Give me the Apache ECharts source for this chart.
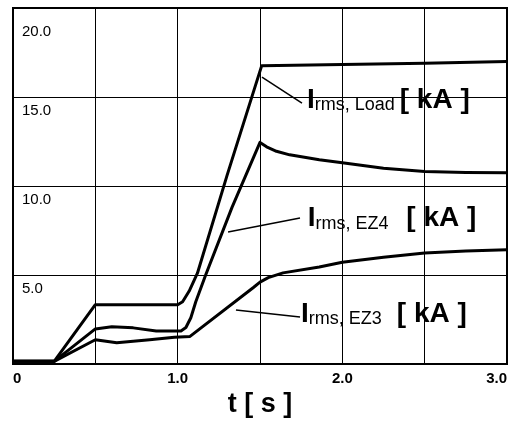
<!DOCTYPE html>
<html>
<head>
<meta charset="utf-8">
<script src="https://cdn.jsdelivr.net/npm/echarts@6/dist/echarts.min.js"></script>
<style>
    html, body { margin: 0; padding: 0; background: #fff; }
    #chart { width: 513px; height: 434px; }
</style>
</head>
<body>
<div id="chart"></div>
<script>
// t [s] -> I_rms [kA]
const loadCurve = [
    [0, 0.15], [0.25, 0.15], [0.5, 3.33], [1.0, 3.33], [1.03, 3.5], [1.07, 4.1],
    [1.12, 5.1], [1.3, 10.6], [1.51, 16.75],
    [2.0, 16.82], [2.5, 16.9], [3.0, 17.0]
];
const ez4Curve = [
    [0, 0.15], [0.25, 0.15], [0.5, 1.97], [0.6, 2.09], [0.73, 2.03], [0.87, 1.85],
    [1.02, 1.86], [1.05, 2.05], [1.08, 2.6], [1.11, 3.5], [1.17, 5.0], [1.33, 8.8],
    [1.5, 12.45], [1.54, 12.2], [1.6, 11.95], [1.68, 11.75],
    [1.86, 11.48], [2.0, 11.3], [2.25, 11.0], [2.5, 10.82], [2.75, 10.76], [3.0, 10.75]
];
const ez3Curve = [
    [0, 0.15], [0.25, 0.15], [0.5, 1.36], [0.63, 1.19], [0.83, 1.36], [0.98, 1.5],
    [1.075, 1.55], [1.46, 4.3], [1.5, 4.6], [1.55, 4.85], [1.64, 5.12], [1.86, 5.45],
    [2.0, 5.72], [2.25, 6.0], [2.5, 6.24], [2.75, 6.35], [3.0, 6.42]
];

const noteTexts = [
    '{i|I}{s|rms, Load }{k|[ kA ]}',
    '{i|I}{s|rms, EZ4  }{k| [ kA ]}',
    '{i|I}{s|rms, EZ3   }{k|[ kA ]}'
];
// where each label starts and where its pointer runs, in data units
const noteAnchors = [[1.785, 15.73], [1.79, 9.07], [1.749, 3.68]];
const leaders = [
    [[1.512, 16.12], [1.755, 14.66]],
    [[1.306, 7.42], [1.743, 8.2]],
    [[1.354, 3.03], [1.743, 2.64]]
];

const font = '"Liberation Sans", Arial, Helvetica, sans-serif';

const makeSeries = (data, leader) => ({
    type: 'line',
    data: data,
    showSymbol: false,
    lineStyle: { color: '#000', width: 3, join: 'round' },
    itemStyle: { color: '#000' },
    markLine: {
        silent: true,
        symbol: ['none', 'none'],
        label: { show: false },
        lineStyle: { color: '#000', width: 1.5, type: 'solid' },
        data: [[{ coord: leader[0] }, { coord: leader[1] }]]
    }
});

const option = {
    animation: false,
    backgroundColor: '#fff',
    grid: {
        left: 13, right: 6, top: 8, bottom: 70,
        show: true, borderColor: '#000', borderWidth: 2
    },
    xAxis: {
        type: 'value',
        min: 0, max: 3, interval: 0.5,
        axisLine: { show: true, lineStyle: { color: '#000', width: 2 } },
        axisTick: { show: false },
        splitLine: { show: true, lineStyle: { color: '#000', width: 1 } },
        axisLabel: {
            color: '#000', fontFamily: font, fontSize: 15, fontWeight: 'bold', margin: 7,
            alignMinLabel: 'left', alignMaxLabel: 'right',
            formatter: (v) => v === 0 ? '0' : (v % 1 === 0 ? v.toFixed(1) : '')
        },
        name: 't [ s ]',
        nameLocation: 'middle',
        nameGap: 22,
        nameTextStyle: { color: '#000', fontFamily: font, fontSize: 27, fontWeight: 'bold' }
    },
    yAxis: {
        type: 'value',
        min: 0, max: 20, interval: 5,
        axisLine: { show: true, lineStyle: { color: '#000', width: 2 } },
        axisTick: { show: false },
        splitLine: { show: true, lineStyle: { color: '#000', width: 1 } },
        axisLabel: {
            inside: true, margin: 9, verticalAlign: 'top', padding: [6, 0, 0, 0],
            color: '#000', fontFamily: font, fontSize: 15,
            formatter: (v) => v === 0 ? '' : (v === 20 ? '{top|20.0}' : v.toFixed(1)),
            rich: { top: { fontFamily: font, fontSize: 15, color: '#000', padding: [10, 0, 0, 0] } }
        }
    },
    series: [
        makeSeries(loadCurve, leaders[0]),
        makeSeries(ez4Curve, leaders[1]),
        makeSeries(ez3Curve, leaders[2])
    ]
};

const chart = echarts.init(document.getElementById('chart'));
chart.setOption(option);

const rich = {
    i: { fontFamily: font, fontSize: 28, fontWeight: 'bold', lineHeight: 30, verticalAlign: 'bottom' },
    s: { fontFamily: font, fontSize: 18, lineHeight: 14, verticalAlign: 'bottom' },
    k: { fontFamily: font, fontSize: 28, fontWeight: 'bold', lineHeight: 30, verticalAlign: 'bottom' }
};

chart.setOption({
    graphic: noteTexts.map((text, i) => {
        const [x, y] = chart.convertToPixel({ gridIndex: 0 }, noteAnchors[i]);
        return {
            type: 'text', x: x, y: y, z: 10,
            style: { text: text, rich: rich, fill: '#000', align: 'left', verticalAlign: 'top' }
        };
    })
});
</script>
</body>
</html>
